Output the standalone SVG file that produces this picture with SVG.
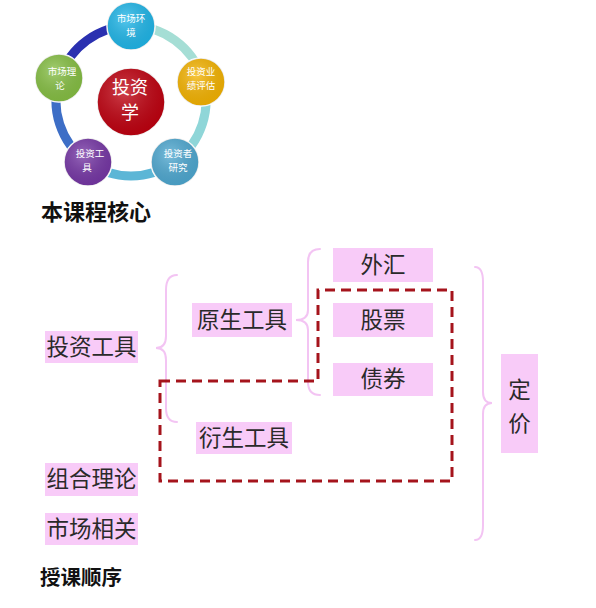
<svg xmlns="http://www.w3.org/2000/svg" width="596" height="608" viewBox="0 0 596 608">
<style>
.ring{fill:none;stroke-width:9}
.nd{stroke:#ffffff;stroke-width:1.5}
.ct{font-family:"Noto Sans CJK SC","Noto Sans",sans-serif;font-size:9.5px;fill:#ffffff;text-anchor:middle}
.box{fill:#f8cbf8}
.lb{font-family:"Noto Sans CJK SC","Noto Sans",sans-serif;font-size:22.5px;fill:#2a2a2a;text-anchor:middle}
.ttl{font-family:"Noto Sans CJK SC","Noto Sans",sans-serif;font-weight:bold;fill:#111111}
.brace{fill:none;stroke:#f3c4f3;stroke-width:2;stroke-linecap:round}
.dash{fill:none;stroke:#a5141c;stroke-width:3;stroke-dasharray:10 6}
</style>
<defs>
<radialGradient id="g" cx="0.4" cy="0.35" r="0.7">
<stop offset="0" stop-color="#ffffff" stop-opacity="0.25"/>
<stop offset="1" stop-color="#000000" stop-opacity="0.08"/>
</radialGradient>
</defs>
<rect width="596" height="608" fill="#ffffff"/>
<g id="ring">
<path class="ring" stroke="#a5ded5" d="M131,26 A75,75 0 0 1 202.3,77.8"/>
<path class="ring" stroke="#8fd6d8" d="M202.3,77.8 A75,75 0 0 1 175.1,161.7"/>
<path class="ring" stroke="#5cb6d6" d="M175.1,161.7 A75,75 0 0 1 86.9,161.7"/>
<path class="ring" stroke="#3d6ec6" d="M86.9,161.7 A75,75 0 0 1 59.7,77.8"/>
<path class="ring" stroke="#2a30b0" d="M59.7,77.8 A75,75 0 0 1 131,26"/>
</g>
<g id="core">
<circle class="nd" cx="131" cy="102" r="34" fill="#c0000f"/>
<circle cx="131" cy="102" r="34" fill="url(#g)"/>
<text class="ct" x="130" y="94" style="font-size:18px">投资</text>
<text class="ct" x="130" y="119" style="font-size:18px">学</text>
</g>
<g id="n-market-env">
<circle class="nd" cx="131" cy="26" r="24" fill="#1fb7ea"/>
<circle cx="131" cy="26" r="24" fill="url(#g)"/>
<text class="ct" x="131" y="21.5">市场环</text>
<text class="ct" x="131" y="35.5">境</text>
</g>
<g id="n-perf">
<circle class="nd" cx="201" cy="82" r="24" fill="#f6b400"/>
<circle cx="201" cy="82" r="24" fill="url(#g)"/>
<text class="ct" x="201" y="74.5">投资业</text>
<text class="ct" x="201" y="88.5">绩评估</text>
</g>
<g id="n-investor">
<circle class="nd" cx="175" cy="162" r="24" fill="#4ea9d2"/>
<circle cx="175" cy="162" r="24" fill="url(#g)"/>
<text class="ct" x="178" y="157">投资者</text>
<text class="ct" x="178" y="171">研究</text>
</g>
<g id="n-tools">
<circle class="nd" cx="88" cy="162" r="24" fill="#7636a6"/>
<circle cx="88" cy="162" r="24" fill="url(#g)"/>
<text class="ct" x="90" y="157">投资工</text>
<text class="ct" x="87" y="171">具</text>
</g>
<g id="n-theory">
<circle class="nd" cx="59" cy="78" r="24" fill="#86c043"/>
<circle cx="59" cy="78" r="24" fill="url(#g)"/>
<text class="ct" x="62" y="74.5">市场理</text>
<text class="ct" x="60" y="88.5">论</text>
</g>
<text class="ttl" x="41" y="220" style="font-size:22px">本课程核心</text>
<g id="connectors">
<path class="brace" d="M177,275 Q166,275 166,290 L166,336 Q166,348 156,348 Q166,348 166,360 L166,408 Q166,422 177,422"/>
<path class="brace" d="M320,249 Q308,249 308,262 L308,310 Q308,320 296,320 Q308,320 308,330 L308,382 Q308,395 320,395"/>
<path class="brace" d="M475,267 Q483,267 483,282 L483,392 Q483,403 492,403 Q483,403 483,414 L483,525 Q483,540 475,540"/>
<path class="dash" d="M160,381 L318,381 L318,290 L452,290 L452,481 L160,481 Z"/>
</g>
<g id="b-tools"><rect class="box" x="45" y="331" width="93" height="32"/><text class="lb" x="91.5" y="355">投资工具</text></g>
<g id="b-primary"><rect class="box" x="192" y="303" width="100" height="34"/><text class="lb" x="242" y="328">原生工具</text></g>
<g id="b-deriv"><rect class="box" x="196" y="422" width="96" height="32"/><text class="lb" x="244" y="446">衍生工具</text></g>
<g id="b-portfolio"><rect class="box" x="45" y="463" width="93" height="33"/><text class="lb" x="91.5" y="487">组合理论</text></g>
<g id="b-market"><rect class="box" x="45" y="513" width="93" height="32"/><text class="lb" x="91.5" y="537">市场相关</text></g>
<g id="b-fx"><rect class="box" x="333" y="248" width="100" height="34"/><text class="lb" x="383" y="273">外汇</text></g>
<g id="b-stock"><rect class="box" x="333" y="303" width="100" height="34"/><text class="lb" x="383" y="328">股票</text></g>
<g id="b-bond"><rect class="box" x="333" y="363" width="100" height="33"/><text class="lb" x="383" y="387">债券</text></g>
<g id="b-pricing"><rect class="box" x="501" y="354" width="37" height="99"/><text class="lb" x="519.5" y="398">定</text><text class="lb" x="519.5" y="432">价</text></g>
<text class="ttl" x="40" y="585" style="font-size:20.5px">授课顺序</text>
</svg>
